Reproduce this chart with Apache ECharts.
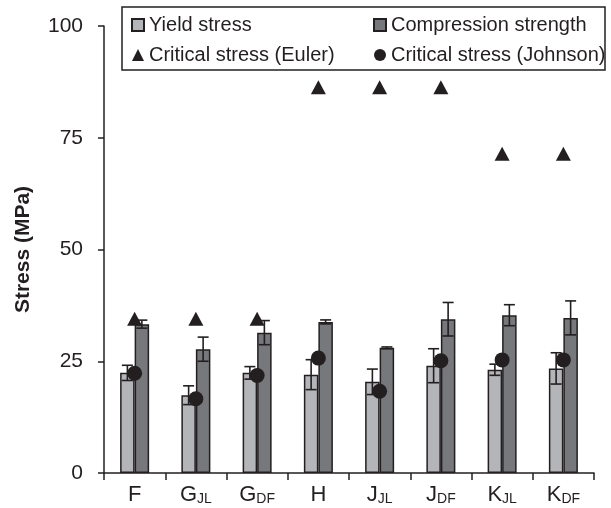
<!DOCTYPE html>
<html>
<head>
<meta charset="utf-8">
<script src="https://cdn.jsdelivr.net/npm/echarts@6/dist/echarts.min.js"></script>
<style>
  html, body { margin: 0; padding: 0; background: #fff; }
  #chart { width: 611px; height: 508px; }
</style>
</head>
<body>
<div id="chart"></div>
<script>
// Specimen groups: main letter plus subscript
const catMain = ['F', 'G', 'G', 'H', 'J', 'J', 'K', 'K'];
const catSub  = ['',  'JL', 'DF', '', 'JL', 'DF', 'JL', 'DF'];
const categories = catMain.map((m, i) => m + (catSub[i] ? '_' + catSub[i] : ''));

// Measured stresses (MPa) with standard deviations
const yieldStress   = [22.4, 17.4, 22.4, 22.0, 20.4, 24.0, 23.1, 23.4];
const yieldErr      = [1.7, 2.1, 1.4, 3.35, 2.85, 3.8, 1.25, 3.5];
const compStrength  = [33.3, 27.7, 31.4, 33.8, 28.0, 34.4, 35.3, 34.7];
const compErr       = [0.9, 2.7, 2.7, 0.45, 0.2, 3.75, 2.35, 3.8];
// Predicted critical buckling stresses (MPa)
const eulerStress   = [34.5, 34.5, 34.5, 86.3, 86.3, 86.3, 71.4, 71.4];
const johnsonStress = [22.3, 16.6, 21.8, 25.7, 18.3, 25.1, 25.3, 25.3];

const yTicks = [0, 25, 50, 75, 100];

const INK = '#231f20';
const LIGHT = '#b4b5b9';
const DARK = '#77787c';
const BAR_W = 14.5;
const FONT = '"Liberation Sans", Arial, sans-serif';

function errorBars(values, errs, shift) {
  return {
    type: 'custom',
    z: 5,
    silent: true,
    encode: { x: 0, y: 1 },
    data: values.map((v, i) => [i, v, errs[i]]),
    renderItem: function (params, api) {
      const i = api.value(0), v = api.value(1), e = api.value(2);
      const top = api.coord([i, v + e]);
      const bot = api.coord([i, v - e]);
      const x = top[0] + shift;
      const cap = 5.5;
      const style = { stroke: INK, lineWidth: 1.6, fill: null };
      return {
        type: 'group',
        children: [
          { type: 'line', shape: { x1: x, y1: top[1], x2: x, y2: bot[1] }, style: style },
          { type: 'line', shape: { x1: x - cap, y1: top[1], x2: x + cap, y2: top[1] }, style: style },
          { type: 'line', shape: { x1: x - cap, y1: bot[1], x2: x + cap, y2: bot[1] }, style: style }
        ]
      };
    }
  };
}

const chart = echarts.init(document.getElementById('chart'), null, { renderer: 'canvas' });

const legendCommon = {
  orient: 'vertical',
  top: 15,
  itemGap: 10,
  itemWidth: 12,
  itemHeight: 12,
  padding: 0,
  selectedMode: false,
  textStyle: { fontSize: 20, color: INK, fontFamily: FONT }
};

chart.setOption({
  animation: false,
  backgroundColor: '#fff',
  textStyle: { fontFamily: FONT },
  grid: { left: 104, right: 17, top: 26, bottom: 35, containLabel: false },
  legend: [
    Object.assign({}, legendCommon, {
      left: 131,
      data: [{ name: 'Yield stress', icon: 'rect' }, { name: 'Critical stress (Euler)', icon: 'triangle' }]
    }),
    Object.assign({}, legendCommon, {
      left: 373,
      data: [{ name: 'Compression strength', icon: 'rect' }, { name: 'Critical stress (Johnson)', icon: 'circle' }]
    })
  ],
  graphic: [{
    type: 'rect',
    z: 100,
    shape: { x: 122, y: 7, width: 483, height: 63 },
    style: { fill: null, stroke: INK, lineWidth: 1.5 }
  }],
  xAxis: {
    type: 'category',
    data: categories,
    boundaryGap: true,
    axisLine: { show: true, lineStyle: { color: INK, width: 1.5 } },
    axisTick: { show: true, length: 7, inside: false, interval: 0, lineStyle: { color: INK, width: 1.5 } },
    axisLabel: {
      interval: 0,
      margin: 11,
      color: INK,
      formatter: function (val, idx) {
        return catSub[idx] ? '{m|' + catMain[idx] + '}{s|' + catSub[idx] + '}' : '{m|' + catMain[idx] + '}';
      },
      rich: {
        m: { fontSize: 22, color: INK, fontFamily: FONT },
        s: { fontSize: 14, color: INK, fontFamily: FONT, verticalAlign: 'bottom', padding: [6, 0, 0, 0] }
      }
    },
    splitLine: { show: false }
  },
  yAxis: {
    type: 'value',
    min: yTicks[0],
    max: yTicks[yTicks.length - 1],
    interval: 25,
    name: 'Stress (MPa)',
    nameLocation: 'middle',
    nameGap: 70,
    nameRotate: 90,
    nameTextStyle: { fontSize: 21, fontWeight: 'bold', color: INK, fontFamily: FONT },
    axisLine: { show: true, lineStyle: { color: INK, width: 1.5 } },
    axisTick: { show: true, length: 6, inside: false, lineStyle: { color: INK, width: 1.5 } },
    axisLabel: { margin: 21, fontSize: 21, color: INK, fontFamily: FONT },
    splitLine: { show: false }
  },
  series: [
    {
      name: 'Yield stress',
      type: 'bar',
      data: yieldStress,
      barWidth: BAR_W,
      barGap: '0%',
      itemStyle: { color: LIGHT, borderColor: INK, borderWidth: 1.5 }
    },
    {
      name: 'Compression strength',
      type: 'bar',
      data: compStrength,
      barWidth: BAR_W,
      barGap: '0%',
      itemStyle: { color: DARK, borderColor: INK, borderWidth: 1.5 }
    },
    errorBars(yieldStress, yieldErr, -BAR_W / 2),
    errorBars(compStrength, compErr, BAR_W / 2),
    {
      name: 'Critical stress (Euler)',
      type: 'scatter',
      z: 10,
      symbol: 'triangle',
      symbolSize: [15, 14],
      data: eulerStress,
      itemStyle: { color: INK, opacity: 1 }
    },
    {
      name: 'Critical stress (Johnson)',
      type: 'scatter',
      z: 10,
      symbol: 'circle',
      symbolSize: 15,
      data: johnsonStress,
      itemStyle: { color: INK, opacity: 1 }
    }
  ]
});
</script>
</body>
</html>
